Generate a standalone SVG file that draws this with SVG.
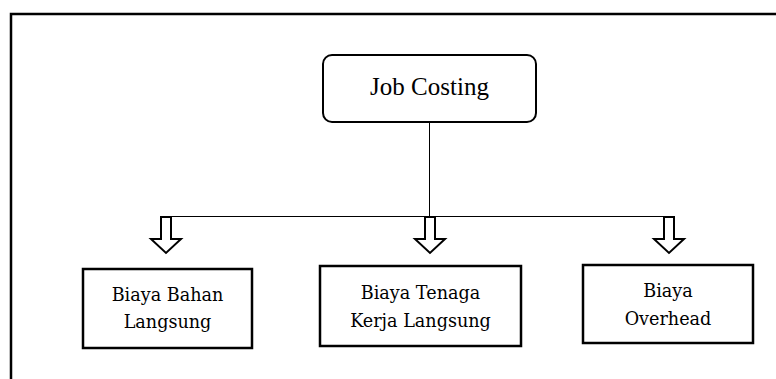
<svg xmlns="http://www.w3.org/2000/svg" width="776" height="379" viewBox="0 0 776 379">
<style>
.frame{fill:none;stroke:#000;stroke-width:2.5}
.box{fill:#fff;stroke:#000;stroke-width:2.5}
.line{fill:none;stroke:#000;stroke-width:1}
.arrow{fill:#fff;stroke:#000;stroke-width:2;stroke-linejoin:miter}
.t1{font-family:"Liberation Serif","Times New Roman",serif;font-size:25px;fill:#000;text-anchor:middle}
.t2{font-family:"DejaVu Serif",serif;font-size:17.6px;fill:#000;text-anchor:middle}
</style>
<rect width="776" height="379" fill="#fff"/>
<path class="frame" d="M11 390 V14 H790"/>
<g id="connectors">
<line class="line" x1="429.5" y1="122" x2="429.5" y2="216"/>
<line class="line" x1="164" y1="216.5" x2="673" y2="216.5"/>
<path class="arrow" d="M161 217 H171 V239 H181 L166 253 L151 239 H161 Z"/>
<path class="arrow" d="M425 217 H435 V239 H445 L430 253 L415 239 H425 Z"/>
<path class="arrow" d="M664 217 H674 V239 H684 L669 253 L654 239 H664 Z"/>
</g>
<g id="job-costing">
<rect class="box" x="323" y="55" width="213" height="67" rx="9" ry="9" style="stroke-width:2"/>
<text class="t1" x="429.5" y="95">Job Costing</text>
</g>
<g id="biaya-bahan">
<rect class="box" x="83" y="269" width="169" height="79"/>
<text class="t2" x="167.5" y="301">Biaya Bahan</text>
<text class="t2" x="167.5" y="328">Langsung</text>
</g>
<g id="biaya-tenaga">
<rect class="box" x="320" y="266" width="201" height="80"/>
<text class="t2" x="420.5" y="299">Biaya Tenaga</text>
<text class="t2" x="420.5" y="327">Kerja Langsung</text>
</g>
<g id="biaya-overhead">
<rect class="box" x="583" y="265" width="170" height="78"/>
<text class="t2" x="668" y="297">Biaya</text>
<text class="t2" x="668" y="325">Overhead</text>
</g>
</svg>
